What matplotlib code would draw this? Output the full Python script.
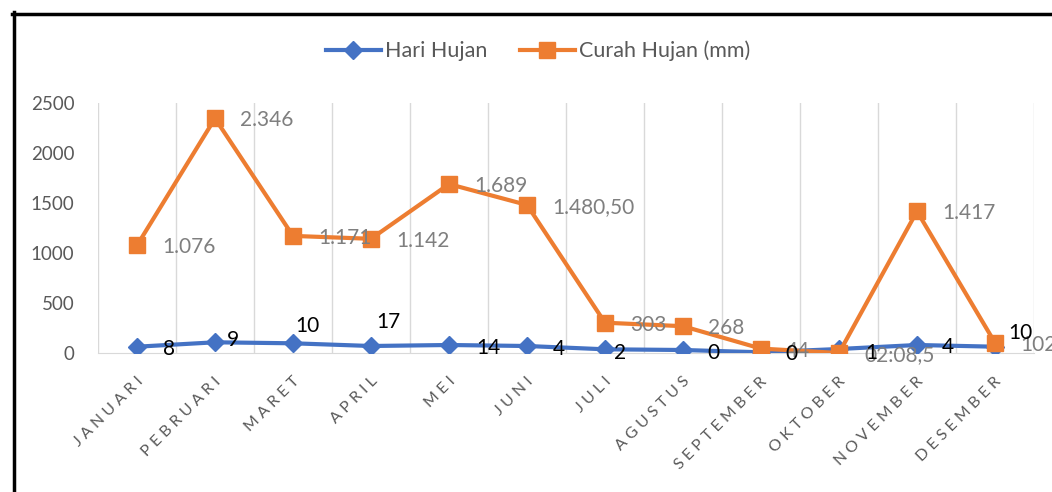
import matplotlib
matplotlib.use('Agg')
import matplotlib.pyplot as plt
from matplotlib.lines import Line2D
from matplotlib.transforms import ScaledTranslation

plt.rcParams['font.family'] = ['Lato', 'DejaVu Sans']

# Data curah hujan per bulan
bulan = ['JANUARI', 'PEBRUARI', 'MARET', 'APRIL', 'MEI', 'JUNI', 'JULI',
         'AGUSTUS', 'SEPTEMBER', 'OKTOBER', 'NOVEMBER', 'DESEMBER']
hari_hujan = [63, 107, 97, 70, 80, 70, 37, 30, 7, 40, 80, 63]
label_hari = ['8', '9', '10', '17', '14', '4', '2', '0', '0', '1', '4', '10']
curah_hujan = [1076, 2346, 1171, 1142, 1689, 1480.5, 303, 268, 44, 0, 1417, 102]
label_curah = ['1.076', '2.346', '1.171', '1.142', '1.689', '1.480,50', '303',
               '268', '44', '02:08,5', '1.417', '102']

# geseran label (piksel, kanan / bawah)
geser_hari = [(26, 2), (12, -2), (2, -17), (5, -24), (27, 3), (26, 3), (9, 4),
              (24, 3), (24, 2), (26, 4), (25, 2), (13, -14)]
geser_curah = (25, 2)

biru = '#4472C4'
oranye = '#ED7D31'
abu = '#595959'

fig = plt.figure(figsize=(10.52, 4.92), dpi=100)
ax = fig.add_axes([98 / 1052, 1 - 353 / 492, (1034 - 98) / 1052, 250 / 492])

x = list(range(len(bulan)))
ax.plot(x, hari_hujan, color=biru, lw=3, marker='D', ms=9, label='Hari Hujan', zorder=3)
ax.plot(x, curah_hujan, color=oranye, lw=3, marker='s', ms=12, label='Curah Hujan (mm)', zorder=4)

# label data
for i in x:
    ax.annotate(label_curah[i], (i, curah_hujan[i]), xytext=(geser_curah[0], -geser_curah[1]),
                textcoords='offset pixels', ha='left', va='center', fontsize=15,
                color='#7f7f7f', annotation_clip=False, zorder=5)
for i in x:
    dx, dy = geser_hari[i]
    ax.annotate(label_hari[i], (i, hari_hujan[i]), xytext=(dx, -dy),
                textcoords='offset pixels', ha='left', va='center', fontsize=15,
                color='black', annotation_clip=False, zorder=6)

ax.set_xlim(-0.5, 11.5)
ax.set_ylim(0, 2500)
ax.set_yticks([0, 500, 1000, 1500, 2000, 2500])
ax.tick_params(axis='y', length=0, pad=17, labelsize=13.5, labelcolor=abu)
ax.set_xticks(x)
ax.set_xticklabels([' '.join(b) for b in bulan], rotation=45, ha='right',
                   va='center', rotation_mode='anchor', fontsize=11.5, color=abu)
ax.tick_params(axis='x', length=0, pad=19)
geser = ScaledTranslation(4 / 100, 0, fig.dpi_scale_trans)
for lbl in ax.get_xticklabels():
    lbl.set_transform(lbl.get_transform() + geser)

# garis grid vertikal di batas kategori
for g in range(13):
    ax.axvline(g - 0.5, color='#d9d9d9', lw=1, zorder=1)
for s in ['top', 'right', 'left']:
    ax.spines[s].set_visible(False)
ax.spines['bottom'].set_color('#d9d9d9')

ax.legend(loc='center', bbox_to_anchor=(538 / 1052, 1 - 51 / 492),
          bbox_transform=fig.transFigure, ncol=2, frameon=False, fontsize=15.5,
          handlelength=2.55, handletextpad=0.2, columnspacing=1.5, labelcolor=abu)

# bingkai hitam
fig.add_artist(Line2D([13.5 / 1052, 13.5 / 1052], [0, 1 - 12 / 492], color='black', lw=2.5,
                      transform=fig.transFigure))
fig.add_artist(Line2D([12 / 1052, 1], [1 - 13.5 / 492, 1 - 13.5 / 492], color='black', lw=2.5,
                      transform=fig.transFigure))

plt.savefig('out.png', dpi=100)
plt.close()
